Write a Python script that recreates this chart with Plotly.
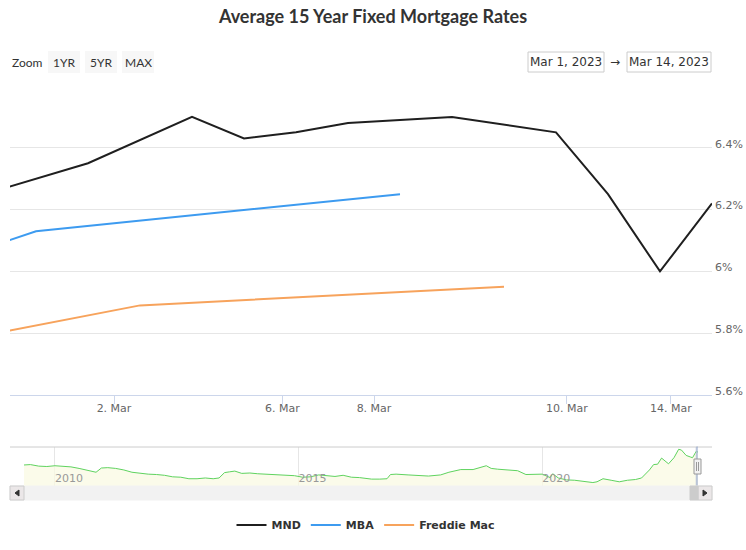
import numpy as np
import pandas as pd
import plotly.graph_objects as go

# ---------------- data ----------------
TITLE = "Average 15 Year Fixed Mortgage Rates"

mnd_dates = ["2023-02-28 19:00", "2023-03-01 19:00", "2023-03-02 19:00", "2023-03-03 19:00",
             "2023-03-06 19:00", "2023-03-07 19:00", "2023-03-08 19:00", "2023-03-09 19:00",
             "2023-03-10 19:00", "2023-03-13 19:00", "2023-03-14 19:00"]
mnd_values = [6.25, 6.35, 6.50, 6.43, 6.45, 6.48, 6.50, 6.45, 6.25, 6.00, 6.22]

mba_dates = ["2023-02-22 05:00", "2023-03-01 05:00", "2023-03-08 05:00"]
mba_values = [5.96, 6.13, 6.25]

fm_dates = ["2023-02-23 05:00", "2023-03-02 05:00", "2023-03-09 05:00"]
fm_values = [5.76, 5.89, 5.95]

series_names = ["MND", "MBA", "Freddie Mac"]
series_colors = ["#1f1f1f", "#3d9bf0", "#f7a35c"]

range_start = "2023-03-01 00:00"
range_end = "2023-03-14 19:00"

x_tick_dates = ["2023-03-02", "2023-03-06", "2023-03-08", "2023-03-10", "2023-03-14"]
y_tick_values = [5.6, 5.8, 6.0, 6.2, 6.4, 6.6]

zoom_buttons = ["1YR", "5YR", "MAX"]

# navigator (long-term MND history)
nav_dates = ["2009-05-14", "2009-07-01", "2009-09-01", "2009-11-01", "2010-01-01", "2010-03-01",
             "2010-05-01", "2010-07-01", "2010-09-01", "2010-10-15", "2010-11-05", "2010-12-15",
             "2011-02-01", "2011-04-01", "2011-06-01", "2011-08-01", "2011-10-01", "2011-12-01",
             "2012-02-01", "2012-04-01", "2012-06-01", "2012-08-01", "2012-10-01", "2012-12-01",
             "2013-02-01", "2013-04-01", "2013-05-15", "2013-06-25", "2013-08-01", "2013-09-10",
             "2013-11-01", "2014-01-01", "2014-03-01", "2014-06-01", "2014-09-01", "2014-12-01",
             "2015-02-01", "2015-04-01", "2015-06-01", "2015-08-01", "2015-10-01", "2015-12-01",
             "2016-02-01", "2016-04-01", "2016-07-01", "2016-09-01", "2016-10-25", "2016-11-20",
             "2017-01-01", "2017-04-01", "2017-06-01", "2017-09-01", "2017-12-01", "2018-02-01",
             "2018-05-01", "2018-08-01", "2018-11-08", "2018-12-15", "2019-02-01", "2019-04-01",
             "2019-07-01", "2019-09-01", "2019-11-01", "2020-01-01", "2020-03-01", "2020-03-20",
             "2020-05-01", "2020-07-01", "2020-09-01", "2020-12-01", "2021-01-15", "2021-02-15",
             "2021-04-01", "2021-06-01", "2021-08-01", "2021-10-01", "2021-12-01", "2022-01-15",
             "2022-02-15", "2022-03-15", "2022-04-15", "2022-05-15", "2022-06-14", "2022-07-15",
             "2022-08-05", "2022-09-15", "2022-10-20", "2022-11-10", "2022-12-15", "2023-01-15",
             "2023-02-01", "2023-03-01", "2023-03-14"]
nav_values = [4.55, 4.60, 4.40, 4.35, 4.45, 4.40,
              4.30, 4.10, 3.85, 3.70, 3.60, 4.15,
              4.20, 4.10, 3.90, 3.60, 3.45, 3.35,
              3.30, 3.20, 3.00, 2.95, 2.75, 2.75,
              2.85, 2.75, 2.85, 3.55, 3.65, 3.75,
              3.45, 3.50, 3.40, 3.30, 3.25, 3.15,
              2.95, 3.00, 3.25, 3.15, 3.05, 3.20,
              2.95, 2.90, 2.70, 2.70, 2.75, 3.30,
              3.35, 3.25, 3.20, 3.10, 3.25, 3.60,
              3.95, 3.95, 4.45, 4.10, 4.00, 3.95,
              3.80, 3.30, 3.35, 3.35, 2.90, 3.40,
              2.85, 2.60, 2.55, 2.35, 2.25, 2.35,
              2.75, 2.55, 2.35, 2.55, 2.65, 2.85,
              3.40, 3.90, 4.60, 4.65, 5.45, 5.00,
              4.70, 5.50, 6.60, 6.50, 5.80, 5.60,
              5.50, 6.35, 6.22]
nav_tick_dates = ["2010-01-01", "2015-01-01", "2020-01-01"]

# ---------------- geometry helpers (styling only) ----------------
W, H = 746, 550
ML, MR, MT, MB = 10, 34, 86, 50
PW, PH = W - ML - MR, H - MT - MB


def px(x):
    return (x - ML) / PW


def py(y):
    return (H - MB - y) / PH


# ---------------- ordinal x scale (like Highstock) ----------------
all_ts = pd.DatetimeIndex(sorted(set(pd.to_datetime(mnd_dates + mba_dates + fm_dates))))
ts_num = all_ts.asi8.astype(float)
ord_idx = np.arange(len(all_ts), dtype=float)


def to_ord(dates):
    return np.interp(pd.to_datetime(dates).asi8.astype(float), ts_num, ord_idx)


x_range = [float(to_ord([range_start])[0]), float(to_ord([range_end])[0])]
tick_pos = to_ord(x_tick_dates)
tick_txt = [f"{d.day}. {d.strftime('%b')}" for d in pd.to_datetime(x_tick_dates)]

fig = go.Figure()
for name, color, dts, vals in zip(series_names, series_colors,
                                  [mnd_dates, mba_dates, fm_dates],
                                  [mnd_values, mba_values, fm_values]):
    fig.add_trace(go.Scatter(x=to_ord(dts), y=vals, mode="lines", name=name,
                             line=dict(color=color, width=2), xaxis="x", yaxis="y"))

fig.add_trace(go.Scatter(x=nav_dates, y=nav_values, mode="lines", showlegend=False,
                         line=dict(color="#5fd35f", width=1), fill="tozeroy",
                         fillcolor="rgba(250,250,225,0.7)", xaxis="x2", yaxis="y2",
                         hoverinfo="skip"))

AX_FONT = dict(family="DejaVu Sans", size=11, color="#666666")

fig.update_layout(
    width=W, height=H, autosize=False,
    margin=dict(l=ML, r=MR, t=MT, b=MB, autoexpand=False),
    paper_bgcolor="white", plot_bgcolor="white",
    title=dict(text=TITLE, x=0.5, xanchor="center", xref="container",
               y=1 - 17 / H, yanchor="middle", yref="container",
               font=dict(family="Lato", size=18, color="#333333", weight="bold")),
    xaxis=dict(domain=[0, 1], anchor="y", range=x_range, tickvals=tick_pos, ticktext=tick_txt,
               showgrid=False, zeroline=False, showline=True, linecolor="#ccd6eb", linewidth=1,
               ticks="outside", ticklen=8, tickcolor="#ccd6eb", tickfont=AX_FONT,
               ticklabelstandoff=-5, automargin=False),
    yaxis=dict(domain=[py(395), 1], anchor="x", side="right", range=[5.6, 6.6],
               tickvals=y_tick_values,
               ticktext=[f"{v:g}%" for v in y_tick_values[:-1]] + [""],
               showgrid=True, gridcolor="#e6e6e6", gridwidth=1, zeroline=False,
               showline=False, ticks="", tickfont=AX_FONT, ticklabelstandoff=2,
               ticklabelshift=-4, automargin=False),
    xaxis2=dict(domain=[px(24), px(698)], anchor="y2", type="date",
                range=[nav_dates[0], nav_dates[-1]],
                tickvals=nav_tick_dates, ticktext=[d[:4] for d in nav_tick_dates],
                ticklabelposition="inside right", ticks="", showgrid=True,
                gridcolor="#e6e6e6", zeroline=False, showline=False,
                ticklabelstandoff=-4, automargin=False,
                tickfont=dict(family="DejaVu Sans", size=11, color="#999999")),
    yaxis2=dict(domain=[py(486), py(447)], anchor="x2", range=[1.8, 6.9], visible=False,
                showgrid=False, automargin=False),
    legend=dict(orientation="h", x=0.5 + 5 / PW, xanchor="center", y=py(525), yanchor="middle",
                font=dict(family="DejaVu Sans", size=11, color="#333333", weight="bold"),
                itemwidth=30, bgcolor="rgba(0,0,0,0)"),
    showlegend=True,
)

shapes = []
annots = []


def rect(x0, y0, x1, y1, fill, line="rgba(0,0,0,0)", lw=1):
    shapes.append(dict(type="rect", xref="paper", yref="paper",
                       x0=px(x0), x1=px(x1), y0=py(y1), y1=py(y0),
                       fillcolor=fill, line=dict(color=line, width=lw), layer="above"))


def text(x, y, s, size=12, color="#333333", family="DejaVu Sans", anchor="center", weight="normal"):
    annots.append(dict(x=px(x), y=py(y), xref="paper", yref="paper", text=s, showarrow=False,
                       xanchor=anchor, yanchor="middle",
                       font=dict(family=family, size=size, color=color, weight=weight)))


def path(points, fill, line):
    d = "M " + " L ".join(f"{px(a)},{py(b)}" for a, b in points) + " Z"
    shapes.append(dict(type="path", xref="paper", yref="paper", path=d,
                       fillcolor=fill, line=dict(color=line, width=1), layer="above"))


# range selector
text(10, 63, "Zoom", size=12, color="#333333", family="Lato", anchor="left")
btn_x = [(48, 80), (85, 117), (122, 154)]
for (a, b), lab in zip(btn_x, zoom_buttons):
    rect(a, 51, b, 73, "#f7f7f7")
    text((a + b) / 2, 62.5, lab, size=12, color="#333333", family="Lato")

# range inputs
d0, d1 = pd.to_datetime(range_start), pd.to_datetime(range_end)
rect(528, 52, 604, 72, "white", "#cccccc")
text(566, 62.5, f"{d0.strftime('%b')} {d0.day}, {d0.year}", size=12, color="#333333")
text(615, 62.5, "→", size=12, color="#333333")
rect(627, 52, 711, 72, "white", "#cccccc")
text(669, 62.5, f"{d1.strftime('%b')} {d1.day}, {d1.year}", size=12, color="#333333")

# navigator outline + selection mask
shapes.append(dict(type="line", xref="paper", yref="paper", x0=px(10), x1=px(712),
                   y0=py(447), y1=py(447), line=dict(color="#cccccc", width=1), layer="above"))
shapes.append(dict(type="rect", xref="x2", yref="paper", x0=range_start, x1=range_end,
                   y0=py(486), y1=py(447), fillcolor="rgba(102,133,194,0.3)",
                   line=dict(color="#b0bcd4", width=1), layer="above"))
# handle
rect(694, 459, 701, 474, "#f2f2f2", "#999999")
shapes.append(dict(type="line", xref="paper", yref="paper", x0=px(696.5), x1=px(696.5),
                   y0=py(462), y1=py(471), line=dict(color="#999999", width=1), layer="above"))
shapes.append(dict(type="line", xref="paper", yref="paper", x0=px(698.5), x1=px(698.5),
                   y0=py(462), y1=py(471), line=dict(color="#999999", width=1), layer="above"))

# scrollbar
rect(10, 486, 712, 500, "#f2f2f2", "#f2f2f2")
rect(10, 486, 24, 500, "#ebe7e8", "#cccccc")
rect(698, 486, 712, 500, "#ebe7e8", "#cccccc")
rect(690, 486, 698, 500, "#cccccc", "#cccccc")
path([(19, 490), (15, 493), (19, 496)], "#333333", "#333333")
path([(703, 490), (707, 493), (703, 496)], "#333333", "#333333")

fig.update_layout(shapes=shapes, annotations=annots)
fig.write_html("out.html", config={"displayModeBar": False},
               post_script="document.body.style.margin='0px';")
